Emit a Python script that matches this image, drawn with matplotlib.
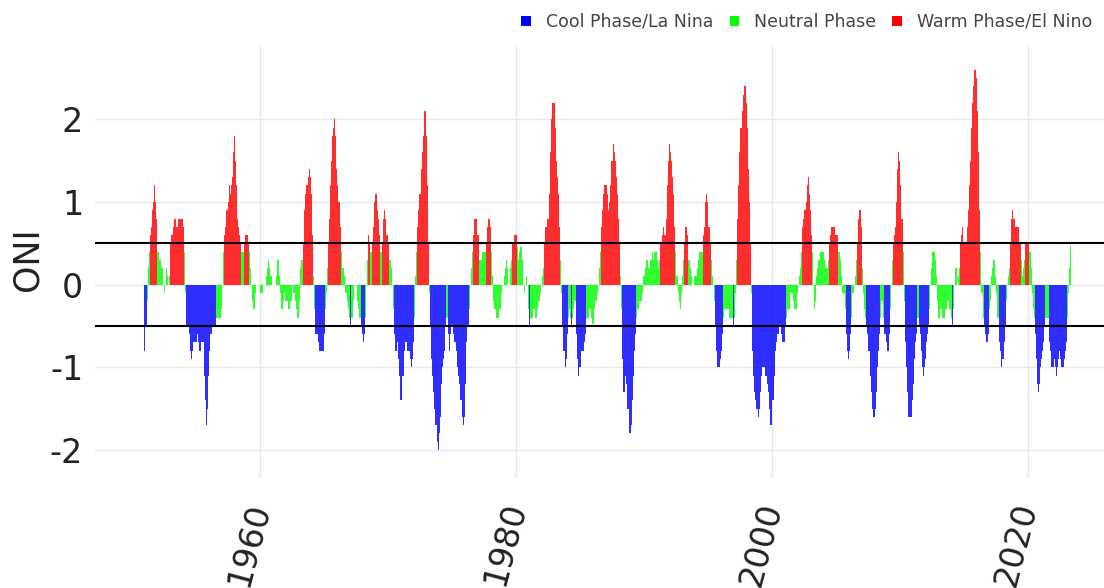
import numpy as np
import matplotlib
matplotlib.use("Agg")
import matplotlib.pyplot as plt
from matplotlib.patches import Patch

plt.rcParams["axes.unicode_minus"] = False

# Oceanic Nino Index, 3-month running means (DJF, JFM, ... NDJ), one row per year
START_YEAR = 1951

ONI_1950S = [
    [-0.8, -0.5, -0.2, 0.2, 0.4, 0.6, 0.7, 0.9, 1.0, 1.2, 1.0, 0.8],      # 1951
    [0.4, 0.4, 0.3, 0.3, 0.2, 0.0, -0.1, 0.0, 0.2, 0.1, 0.0, 0.1],         # 1952
    [0.5, 0.6, 0.6, 0.7, 0.8, 0.8, 0.7, 0.7, 0.8, 0.8, 0.8, 0.8],          # 1953
    [0.7, 0.4, -0.1, -0.5, -0.5, -0.5, -0.6, -0.8, -0.9, -0.8, -0.7, -0.7],
    [-0.7, -0.6, -0.7, -0.8, -0.8, -0.7, -0.7, -0.7, -1.1, -1.4, -1.7, -1.5],
    [-1.1, -0.8, -0.6, -0.5, -0.5, -0.5, -0.5, -0.4, -0.4, -0.4, -0.4, -0.4],
    [-0.3, 0.0, 0.4, 0.6, 0.7, 0.9, 1.0, 1.2, 1.1, 1.2, 1.3, 1.6],
    [1.8, 1.5, 1.2, 0.8, 0.7, 0.6, 0.5, 0.4, 0.4, 0.5, 0.6, 0.6],
    [0.6, 0.5, 0.4, 0.2, 0.0, -0.2, -0.3, -0.3, -0.1, 0.0, 0.0, 0.0],      # 1959
]
ONI_1960S = [
    [-0.1, -0.1, -0.1, 0.0, 0.0, 0.0, 0.1, 0.2, 0.3, 0.2, 0.1, 0.1],
    [0.0, 0.0, 0.0, 0.1, 0.3, 0.3, 0.1, -0.1, -0.3, -0.3, -0.2, -0.1],
    [-0.2, -0.2, -0.2, -0.3, -0.3, -0.2, 0.0, -0.1, -0.1, -0.2, -0.3, -0.4],
    [-0.4, -0.2, 0.2, 0.3, 0.3, 0.5, 0.9, 1.1, 1.2, 1.3, 1.4, 1.3],
    [1.1, 0.6, 0.1, -0.3, -0.6, -0.6, -0.6, -0.7, -0.8, -0.8, -0.8, -0.8],
    [-0.6, -0.3, -0.1, 0.2, 0.5, 0.8, 1.2, 1.5, 1.8, 1.9, 2.0, 1.8],
    [1.4, 1.2, 1.0, 0.7, 0.4, 0.2, 0.2, 0.1, -0.1, -0.1, -0.2, -0.3],
    [-0.4, -0.5, -0.4, -0.4, -0.2, 0.0, 0.0, -0.2, -0.3, -0.4, -0.4, -0.5],
    [-0.6, -0.7, -0.6, -0.4, 0.0, 0.3, 0.6, 0.5, 0.4, 0.5, 0.7, 1.0],
    [1.1, 1.1, 0.9, 0.8, 0.6, 0.4, 0.4, 0.5, 0.8, 0.9, 0.8, 0.6],
]
ONI_1970S = [
    [0.5, 0.3, 0.3, 0.2, 0.0, -0.3, -0.6, -0.8, -0.8, -0.7, -0.9, -1.1],
    [-1.4, -1.4, -1.1, -0.8, -0.7, -0.7, -0.8, -0.8, -0.8, -0.9, -1.0, -0.9],
    [-0.7, -0.4, 0.1, 0.4, 0.7, 0.9, 1.1, 1.4, 1.6, 1.8, 2.1, 2.1],
    [1.8, 1.2, 0.5, -0.1, -0.5, -0.9, -1.1, -1.3, -1.5, -1.7, -1.9, -2.0],
    [-1.8, -1.6, -1.2, -1.0, -0.9, -0.8, -0.5, -0.4, -0.4, -0.6, -0.8, -0.6],
    [-0.5, -0.6, -0.7, -0.7, -0.8, -1.0, -1.1, -1.2, -1.4, -1.4, -1.6, -1.7],
    [-1.6, -1.2, -0.7, -0.5, -0.3, 0.0, 0.2, 0.4, 0.6, 0.8, 0.8, 0.8],
    [0.6, 0.6, 0.3, 0.3, 0.3, 0.4, 0.4, 0.4, 0.5, 0.7, 0.8, 0.8],
    [0.7, 0.4, 0.1, -0.2, -0.3, -0.3, -0.4, -0.4, -0.4, -0.3, -0.1, 0.0],
    [0.0, 0.1, 0.2, 0.3, 0.2, 0.0, 0.0, 0.2, 0.3, 0.5, 0.5, 0.6],
]
ONI_1980S = [
    [0.6, 0.45, 0.3, 0.4, 0.45, 0.45, 0.3, 0.0, -0.1, 0.0, 0.1, 0.0],
    [-0.3, -0.5, -0.4, -0.4, -0.3, -0.3, -0.4, -0.4, -0.3, -0.2, -0.2, -0.1],
    [0.0, 0.1, 0.2, 0.5, 0.7, 0.7, 0.8, 1.1, 1.6, 2.0, 2.2, 2.2],
    [2.2, 1.9, 1.5, 1.3, 1.1, 0.7, 0.3, -0.1, -0.5, -0.8, -1.0, -0.9],
    [-0.6, -0.4, -0.3, -0.4, -0.5, -0.4, -0.3, -0.2, -0.2, -0.6, -0.9, -1.1],
    [-1.0, -0.8, -0.8, -0.8, -0.7, -0.6, -0.4, -0.4, -0.4, -0.3, -0.3, -0.4],
    [-0.48, -0.48, -0.3, -0.2, -0.1, 0.0, 0.2, 0.4, 0.7, 0.9, 1.1, 1.2],
    [1.2, 1.2, 1.1, 0.9, 1.0, 1.2, 1.5, 1.7, 1.6, 1.5, 1.3, 1.1],
    [0.8, 0.5, 0.1, -0.3, -0.9, -1.3, -1.3, -1.1, -1.2, -1.5, -1.8, -1.8],
    [-1.7, -1.4, -1.1, -0.8, -0.6, -0.4, -0.3, -0.3, -0.2, -0.2, -0.2, -0.1],
]
ONI_1990S = [
    [0.1, 0.2, 0.3, 0.3, 0.2, 0.2, 0.3, 0.3, 0.4, 0.3, 0.4, 0.4],
    [0.4, 0.3, 0.2, 0.3, 0.5, 0.6, 0.7, 0.6, 0.6, 0.8, 1.2, 1.5],
    [1.7, 1.6, 1.5, 1.3, 1.1, 0.7, 0.4, 0.1, -0.1, -0.2, -0.3, -0.1],
    [0.1, 0.3, 0.5, 0.7, 0.7, 0.6, 0.3, 0.3, 0.2, 0.1, 0.0, 0.1],
    [0.1, 0.1, 0.2, 0.3, 0.4, 0.4, 0.4, 0.4, 0.6, 0.7, 1.0, 1.1],
    [1.0, 0.7, 0.5, 0.3, 0.1, 0.0, -0.2, -0.5, -0.8, -1.0, -1.0, -1.0],
    [-0.9, -0.8, -0.6, -0.4, -0.3, -0.3, -0.3, -0.3, -0.4, -0.4, -0.4, -0.4],
    [-0.5, -0.4, -0.1, 0.3, 0.8, 1.2, 1.6, 1.9, 2.1, 2.3, 2.4, 2.4],
    [2.2, 1.9, 1.4, 1.0, 0.5, -0.1, -0.8, -1.1, -1.3, -1.4, -1.5, -1.6],
    [-1.5, -1.3, -1.1, -1.0, -1.0, -1.0, -1.1, -1.1, -1.2, -1.3, -1.5, -1.7],
]
ONI_2000S = [
    [-1.7, -1.4, -1.1, -0.8, -0.7, -0.6, -0.6, -0.5, -0.5, -0.6, -0.7, -0.7],
    [-0.7, -0.5, -0.4, -0.3, -0.3, -0.1, -0.1, -0.1, -0.2, -0.3, -0.3, -0.3],
    [-0.1, 0.0, 0.1, 0.2, 0.4, 0.7, 0.8, 0.9, 1.0, 1.2, 1.3, 1.1],
    [0.9, 0.6, 0.4, 0.0, -0.3, -0.2, 0.1, 0.2, 0.3, 0.3, 0.4, 0.4],
    [0.4, 0.3, 0.2, 0.2, 0.2, 0.3, 0.5, 0.6, 0.7, 0.7, 0.7, 0.7],
    [0.6, 0.6, 0.4, 0.4, 0.3, 0.1, -0.1, -0.1, -0.1, -0.3, -0.6, -0.8],
    [-0.9, -0.8, -0.6, -0.4, -0.1, 0.0, 0.1, 0.3, 0.5, 0.8, 0.9, 0.9],
    [0.7, 0.2, -0.1, -0.3, -0.4, -0.5, -0.6, -0.8, -1.1, -1.3, -1.5, -1.6],
    [-1.6, -1.5, -1.3, -1.0, -0.8, -0.6, -0.4, -0.2, -0.2, -0.4, -0.6, -0.7],
    [-0.8, -0.8, -0.6, -0.3, 0.0, 0.3, 0.5, 0.6, 0.7, 1.0, 1.4, 1.6],
]
ONI_2010S = [
    [1.5, 1.2, 0.8, 0.4, -0.2, -0.7, -1.0, -1.3, -1.6, -1.6, -1.6, -1.6],
    [-1.4, -1.2, -0.9, -0.7, -0.6, -0.4, -0.5, -0.6, -0.8, -1.0, -1.1, -1.0],
    [-0.9, -0.7, -0.6, -0.5, -0.3, 0.0, 0.2, 0.4, 0.4, 0.3, 0.1, -0.2],
    [-0.4, -0.4, -0.3, -0.3, -0.4, -0.4, -0.4, -0.3, -0.3, -0.2, -0.2, -0.3],
    [-0.4, -0.5, -0.3, 0.0, 0.2, 0.2, 0.0, 0.1, 0.2, 0.5, 0.6, 0.7],
    [0.5, 0.5, 0.5, 0.7, 0.9, 1.2, 1.5, 1.9, 2.2, 2.4, 2.6, 2.6],
    [2.5, 2.1, 1.6, 0.9, 0.4, -0.1, -0.4, -0.5, -0.6, -0.7, -0.7, -0.6],
    [-0.3, -0.2, 0.1, 0.2, 0.3, 0.3, 0.1, -0.1, -0.4, -0.7, -0.8, -1.0],
    [-0.9, -0.9, -0.7, -0.5, -0.2, 0.0, 0.1, 0.2, 0.5, 0.8, 0.9, 0.8],
    [0.7, 0.7, 0.7, 0.7, 0.5, 0.5, 0.3, 0.1, 0.2, 0.3, 0.5, 0.5],
]
ONI_2020S = [
    [0.5, 0.5, 0.4, 0.2, -0.1, -0.3, -0.4, -0.6, -0.9, -1.2, -1.3, -1.2],
    [-1.0, -0.9, -0.8, -0.7, -0.5, -0.4, -0.4, -0.4, -0.7, -0.8, -1.0, -1.0],
    [-1.0, -0.9, -1.0, -1.1, -1.0, -0.9, -0.8, -0.9, -1.0, -1.0, -0.9, -0.8],
    [-0.7, -0.4, -0.1, 0.2, 0.47],
]

PHASES = ["Cool Phase/La Nina", "Neutral Phase", "Warm Phase/El Nino"]
PHASE_COLORS = ["#0000FF", "#00FF00", "#FF0000"]
THRESHOLD = 0.5

oni = np.array([v for decade in (ONI_1950S, ONI_1960S, ONI_1970S, ONI_1980S,
                                  ONI_1990S, ONI_2000S, ONI_2010S, ONI_2020S)
                for row in decade for v in row])
dates = START_YEAR + np.arange(len(oni)) / 12.0

phase = np.where(oni >= THRESHOLD, 2, np.where(oni <= -THRESHOLD, 0, 1))

W, H = 1104, 588
fig = plt.figure(figsize=(W / 100, H / 100), dpi=100)
ax = fig.add_axes([95 / W, 1 - 478 / H, 1 - 95 / W, (478 - 45) / H])

for k, col in enumerate(PHASE_COLORS):
    sel = phase == k
    ax.bar(dates[sel], oni[sel], width=1 / 12, color=col, alpha=0.82,
           linewidth=0, zorder=2)

for lev in (-THRESHOLD, THRESHOLD):
    ax.axhline(lev, color="black", linewidth=1.5, zorder=3)

ax.set_xlim(1947.1, 2025.95)
ax.set_ylim(-2.34, 2.9)
ax.set_xticks([1960, 1980, 2000, 2020])
ax.set_yticks([-2, -1, 0, 1, 2])
ax.grid(True, color="#e8e8e8", linewidth=1.0, zorder=0)
ax.set_axisbelow(True)
for s in ax.spines.values():
    s.set_visible(False)

ax.tick_params(axis="y", length=0, pad=8.5, labelsize=24, labelcolor="#222222")
ax.tick_params(axis="x", length=0, pad=18, labelsize=24, labelcolor="#222222")
plt.setp(ax.get_xticklabels(), rotation=75, ha="right", va="center",
         rotation_mode="anchor")

fig.text(28 / W, 1 - 259 / H, "ONI", rotation=90, ha="center", va="center",
         fontsize=25, color="#222222")

handles = [Patch(facecolor=c, edgecolor="none") for c in PHASE_COLORS]
fig.legend(handles, PHASES, loc="center right", bbox_to_anchor=(1092 / W, 1 - 22 / H),
           ncol=3, frameon=False, fontsize=12.5, labelcolor="#444444",
           handlelength=0.55, handleheight=0.55, handletextpad=0.85,
           columnspacing=0.95, borderpad=0, borderaxespad=0)

fig.savefig("out.png", dpi=100)
